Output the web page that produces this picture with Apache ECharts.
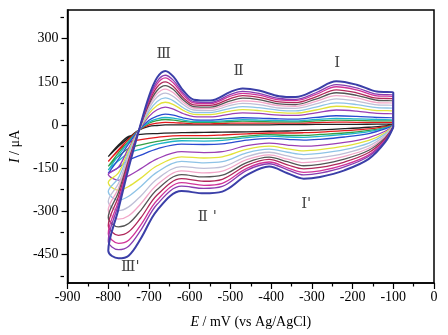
<!DOCTYPE html>
<html>
<head>
<meta charset="utf-8">
<script src="https://cdn.jsdelivr.net/npm/echarts@6/dist/echarts.min.js"></script>
<style>
  html, body { margin: 0; padding: 0; background: #fff; }
  #chart { width: 448px; height: 335px; }
</style>
</head>
<body>
<div id="chart"></div>
<script>
// potential grid of the cathodic (forward) and anodic (reverse) scans, mV
const E_fwd = [-100, -120, -160, -220, -280, -320, -360, -405, -460, -520, -565, -620, -680, -720, -750, -775, -800];
const E_rev = [-800, -775, -750, -725, -700, -680, -660, -640, -615, -590, -550, -500, -470, -430, -380, -340, -290, -240, -190, -140, -100];

// current, uA, one pair per cycle (inner -> outer)
const fwd01 = [0, -3, -8, -13, -17, -19, -21, -22, -24, -25, -26, -27, -30, -33, -40, -70, -110];
const rev01 = [-110, -75, -45, -18, -5, -2, 0, 0, 0, 0, 0, 0, 0, 0, 1, 1, 2, 2, 2, 3, 3];
const fwd02 = [0, -6, -14, -20, -25, -27, -28, -28, -31, -35, -37, -37, -43, -51, -61, -90, -127];
const rev02 = [-127, -86, -50, -18, 0, 6, 9, 8, 6, 4, 4, 6, 6, 6, 6, 6, 8, 10, 9, 9, 9];
const fwd03 = [-1, -9, -19, -28, -33, -36, -36, -34, -39, -46, -47, -47, -57, -69, -82, -109, -144];
const rev03 = [-144, -97, -56, -18, 6, 15, 19, 17, 12, 9, 9, 12, 13, 12, 11, 11, 14, 17, 16, 14, 14];
const fwd04 = [-1, -11, -23, -33, -40, -43, -42, -39, -44, -54, -56, -55, -67, -84, -98, -125, -157];
const rev04 = [-157, -106, -60, -18, 10, 21, 26, 24, 17, 12, 12, 16, 18, 17, 15, 14, 19, 23, 21, 19, 18];
const fwd05 = [-2, -14, -30, -42, -50, -53, -50, -47, -53, -66, -68, -67, -83, -105, -123, -148, -168];
const rev05 = [-168, -119, -66, -18, 16, 31, 38, 34, 24, 18, 17, 23, 25, 24, 21, 20, 26, 32, 30, 26, 25];
const fwd06 = [-3, -22, -44, -61, -71, -74, -70, -63, -72, -93, -96, -93, -118, -152, -177, -192, -172];
const rev06 = [-172, -147, -80, -19, 30, 53, 62, 55, 39, 29, 28, 38, 42, 40, 34, 33, 42, 52, 48, 40, 39];
const fwd07 = [-3, -27, -54, -74, -86, -90, -83, -74, -85, -111, -115, -111, -142, -185, -214, -228, -200];
const rev07 = [-200, -167, -89, -19, 39, 68, 79, 71, 50, 37, 36, 48, 53, 50, 43, 41, 52, 65, 60, 50, 49];
const fwd08 = [-4, -32, -63, -86, -99, -103, -95, -84, -97, -128, -132, -127, -164, -214, -248, -262, -232];
const rev08 = [-232, -184, -98, -19, 48, 82, 94, 84, 59, 44, 43, 58, 64, 60, 51, 49, 62, 77, 71, 60, 58];
const fwd09 = [-5, -37, -73, -99, -114, -118, -108, -95, -110, -146, -151, -145, -188, -247, -285, -298, -266];
const rev09 = [-266, -204, -107, -19, 57, 97, 111, 99, 70, 52, 50, 68, 75, 71, 59, 58, 73, 91, 83, 70, 68];
const fwd10 = [-5, -41, -81, -109, -126, -131, -119, -104, -121, -161, -167, -160, -208, -274, -316, -328, -296];
const rev10 = [-296, -220, -115, -19, 65, 109, 125, 112, 78, 59, 57, 76, 84, 80, 67, 65, 82, 102, 94, 78, 76];
const fwd11 = [-6, -45, -88, -119, -137, -142, -128, -112, -131, -175, -181, -173, -225, -297, -343, -355, -322];
const rev11 = [-322, -234, -122, -19, 72, 120, 137, 123, 86, 64, 62, 84, 93, 88, 73, 71, 90, 112, 103, 86, 83];
const fwd12 = [-6, -49, -96, -129, -148, -153, -139, -120, -141, -189, -196, -187, -244, -323, -372, -384, -350];
const rev12 = [-350, -249, -129, -20, 79, 132, 150, 134, 94, 70, 68, 92, 102, 96, 80, 78, 98, 122, 112, 93, 91];
const fwd13 = [-7, -53, -104, -139, -160, -165, -149, -129, -151, -203, -210, -201, -262, -348, -401, -412, -378];
const rev13 = [-378, -265, -136, -20, 86, 143, 164, 146, 103, 77, 74, 100, 110, 104, 87, 85, 106, 133, 122, 101, 99];
const fwd14 = [-7, -55, -109, -146, -168, -174, -156, -135, -158, -214, -221, -213, -276, -366, -422, -434, -404];
const rev14 = [-404, -276, -142, -20, 92, 152, 173, 155, 109, 81, 78, 106, 117, 110, 92, 89, 112, 140, 129, 107, 104];
const fwd15 = [-8, -60, -118, -158, -181, -187, -168, -145, -175, -232, -238, -230, -297, -395, -455, -464, -438];
const rev15 = [-438, -293, -150, -20, 100, 165, 188, 168, 118, 88, 85, 115, 127, 120, 100, 97, 122, 152, 140, 116, 113];

const colors = ['#222222', '#e41a1c', '#34a046', '#1fb5c8', '#2a4bd0', '#9b3fb5', '#e2e23a', '#8ec3e6',
  '#bfbfd6', '#f2a6c8', '#555555', '#b0285a', '#d0349a', '#8a3cb0', '#3b3fa8'];

const yLabels = [-450, -300, -150, 0, 150, 300];
const yMinor = [-525, -375, -225, -75, 75, 225, 375];

// peak labels: [E, I, text]
const peakLabels = [
  [-664, 245, 'Ⅲ'], [-480, 186, 'Ⅱ'], [-238, 214, 'Ⅰ'],
  [-557, -320, "Ⅱ '"], [-314, -275, "Ⅰ'"], [-746, -493, "Ⅲ'"]
];

const cycles = [
  [fwd01, rev01], [fwd02, rev02], [fwd03, rev03], [fwd04, rev04], [fwd05, rev05],
  [fwd06, rev06], [fwd07, rev07], [fwd08, rev08], [fwd09, rev09], [fwd10, rev10],
  [fwd11, rev11], [fwd12, rev12], [fwd13, rev13], [fwd14, rev14], [fwd15, rev15]
];

const serif = 'Liberation Serif';

const series = cycles.map(function (c, k) {
  const pts = E_fwd.map(function (e, i) { return [e, c[0][i]]; })
    .concat(E_rev.slice(1).map(function (e, i) { return [e, c[1][i + 1]]; }));
  pts.push([E_fwd[0], c[0][0]]);
  return {
    type: 'line',
    data: pts,
    showSymbol: false,
    smooth: 0.35,
    silent: true,
    lineStyle: { color: colors[k], width: k === cycles.length - 1 ? 2 : 1.3 },
    z: 2 + k
  };
});

series.push({
  type: 'scatter',
  data: peakLabels,
  symbolSize: 1,
  itemStyle: { color: 'transparent' },
  silent: true,
  label: {
    show: true,
    position: 'inside',
    formatter: function (p) { return p.data[2]; },
    color: '#111',
    fontFamily: 'DejaVu Serif',
    fontSize: 15
  },
  z: 30
});

const nameStyle = { color: '#000', fontFamily: serif, fontSize: 14,
  rich: { i: { fontStyle: 'italic', fontFamily: serif, fontSize: 14, color: '#000' } } };

const chart = echarts.init(document.getElementById('chart'));
chart.setOption({
  animation: false,
  grid: [
    { left: 64, right: 14, top: 10, bottom: 52, show: true, borderColor: '#000', borderWidth: 1.5 },
    // second grid, same box, only carries the short minor ticks of the y axis
    { left: 64, right: 14, top: 10, bottom: 52 }
  ],
  xAxis: [{
    type: 'value', min: -900, max: 0, interval: 100,
    axisLine: { onZero: false, lineStyle: { color: '#000', width: 1.5 } },
    axisTick: { length: 6, lineStyle: { color: '#000', width: 1.2 } },
    minorTick: { show: true, splitNumber: 2, length: 3.5, lineStyle: { color: '#000', width: 1.2 } },
    splitLine: { show: false },
    axisLabel: { color: '#000', fontFamily: serif, fontSize: 14, margin: 7 },
    name: '{i|E} / mV (vs Ag/AgCl)',
    nameLocation: 'middle',
    nameGap: 32,
    nameTextStyle: nameStyle
  }, {
    gridIndex: 1, type: 'value', min: -900, max: 0, show: false
  }],
  yAxis: [{
    type: 'value', min: -550, max: 400,
    axisLine: { onZero: false, lineStyle: { color: '#000', width: 1.5 } },
    axisTick: { length: 6, customValues: yLabels, lineStyle: { color: '#000', width: 1.2 } },
    splitLine: { show: false },
    axisLabel: { color: '#000', fontFamily: serif, fontSize: 14, margin: 9, customValues: yLabels },
    name: '{i|I} / μA',
    nameLocation: 'middle',
    nameGap: 36,
    nameTextStyle: nameStyle
  }, {
    gridIndex: 1, type: 'value', min: -550, max: 400, position: 'left',
    axisLine: { show: false, onZero: false },
    axisTick: { length: 3.5, customValues: yMinor, lineStyle: { color: '#000', width: 1.2 } },
    axisLabel: { show: false },
    splitLine: { show: false }
  }],
  series: series
});
</script>
</body>
</html>
